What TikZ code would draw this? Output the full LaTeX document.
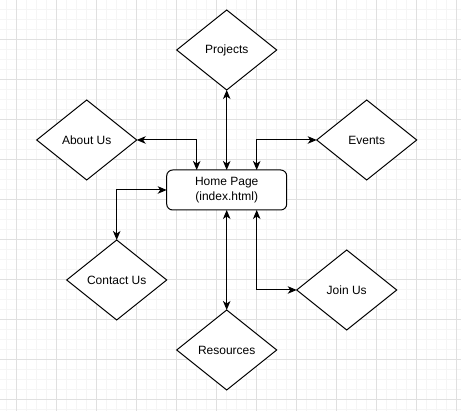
\documentclass[tikz,border=0pt]{standalone}
\usepackage{fontspec}
\setmainfont{Liberation Sans}
\usetikzlibrary{shapes.geometric,arrows.meta,calc}
\definecolor{minorgrid}{RGB}{245,245,245}
\definecolor{majorgrid}{RGB}{224,224,224}
\tikzset{
  page/.style={draw=black,line width=1pt,fill=white,shape=diamond,aspect=1.25,
    minimum width=100pt,minimum height=80pt,inner sep=0pt,outer sep=0pt,
    font=\fontsize{12}{15}\selectfont},
  homebox/.style={draw=black,line width=1pt,fill=white,rounded corners=6pt,
    minimum width=120pt,minimum height=40pt,inner sep=0pt,outer sep=0pt,
    align=center,font=\fontsize{12}{15}\selectfont},
  link/.style={line width=1pt,{Stealth[length=9pt,width=7.5pt,inset=2.5pt]}-{Stealth[length=9pt,width=7.5pt,inset=2.5pt]}}
}
\begin{document}
\begin{tikzpicture}[x=1pt,y=-1pt]
\useasboundingbox[fill=white](0,0)rectangle(461,411);
%grid
\foreach \i in {0,...,45}
{
\draw[minorgrid,line width=1pt](6.7+\i*10,0)--(6.7+\i*10,411);
}
\foreach \j in {1,...,41}
{
\draw[minorgrid,line width=1pt](0,\j*10)--(461,\j*10);
}
\foreach \i in {0,...,11}
{
\draw[majorgrid,line width=1pt](16.7+\i*40,0)--(16.7+\i*40,411);
}
\foreach \j in {0,...,10}
{
\draw[majorgrid,line width=1pt](0,\j*40)--(461,\j*40);
}
%pages
\node[homebox](home)at(226.7,190){Home Page\\(index.html)};
\node[page](projects)at(226.7,50){Projects};
\node[page](about)at(86.7,140){About Us};
\node[page](events)at(366.7,140){Events};
\node[page](contact)at(116.7,280){Contact Us};
\node[page](resources)at(226.7,350){Resources};
\node[page](join)at(346.7,290){Join Us};
%links
\draw[link](home.north)--(projects.south);
\draw[link](about.east)-|($(home.north west)!0.25!(home.north east)$);
\draw[link]($(home.north west)!0.75!(home.north east)$)|-(events.west);
\draw[link](home.west)-|(contact.north);
\draw[link](home.south)--(resources.north);
\draw[link]($(home.south west)!0.75!(home.south east)$)|-(join.west);
\end{tikzpicture}
\end{document}
